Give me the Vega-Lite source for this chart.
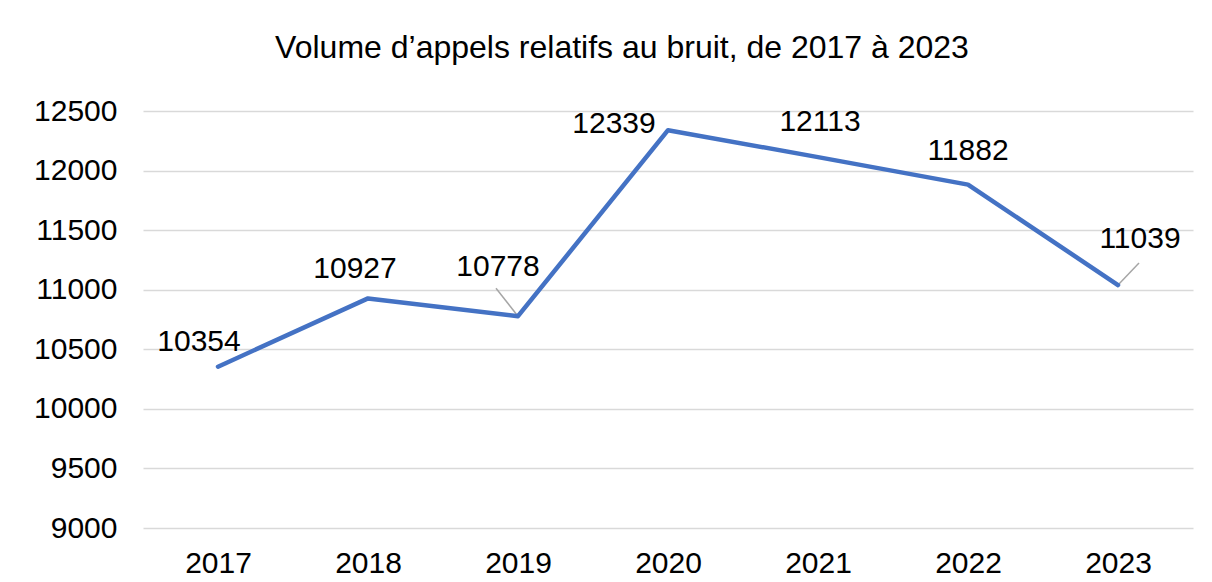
{
  "$schema": "https://vega.github.io/schema/vega-lite/v6.json",
  "autosize": {"type": "none"},
  "width": 1050,
  "height": 417,
  "padding": {"left": 143, "top": 111, "right": 19, "bottom": 54},
  "background": "white",
  "config": {
    "view": {"stroke": null},
    "font": "Liberation Sans",
    "text": {"font": "Liberation Sans"}
  },
  "title": {
    "text": "Volume d’appels relatifs au bruit, de 2017 à 2023",
    "anchor": "middle",
    "dx": -46,
    "offset": 6,
    "baseline": "alphabetic",
    "fontSize": 32,
    "fontWeight": "normal",
    "color": "#000000",
    "font": "Liberation Sans"
  },
  "data": {
    "values": [
      {"year": "2017", "calls": 10354},
      {"year": "2018", "calls": 10927},
      {"year": "2019", "calls": 10778},
      {"year": "2020", "calls": 12339},
      {"year": "2021", "calls": 12113},
      {"year": "2022", "calls": 11882},
      {"year": "2023", "calls": 11039}
    ]
  },
  "encoding": {
    "x": {
      "field": "year",
      "type": "ordinal",
      "scale": {"type": "point", "padding": 0.5},
      "axis": {
        "title": null,
        "labelAngle": 0,
        "labelFontSize": 30,
        "labelColor": "#000000",
        "labelFont": "Liberation Sans",
        "ticks": false,
        "domain": false,
        "labelPadding": 20,
        "grid": false
      }
    },
    "y": {
      "field": "calls",
      "type": "quantitative",
      "scale": {"domain": [9000, 12500], "nice": false, "zero": false},
      "axis": {
        "title": null,
        "values": [9000, 9500, 10000, 10500, 11000, 11500, 12000, 12500],
        "format": "d",
        "labelFontSize": 30,
        "labelColor": "#000000",
        "labelFont": "Liberation Sans",
        "ticks": false,
        "domain": false,
        "labelPadding": 26,
        "gridColor": "#d9d9d9",
        "gridWidth": 1.5
      }
    }
  },
  "layer": [
    {
      "transform": [{"filter": "datum.year == '2019'"}],
      "mark": {"type": "rule", "color": "#a6a6a6", "strokeWidth": 1.5, "x2Offset": -22, "y2Offset": -28},
      "encoding": {
        "x2": {"field": "year"},
        "y2": {"field": "calls"}
      }
    },
    {
      "transform": [{"filter": "datum.year == '2023'"}],
      "mark": {"type": "rule", "color": "#a6a6a6", "strokeWidth": 1.5, "x2Offset": 21, "y2Offset": -22},
      "encoding": {
        "x2": {"field": "year"},
        "y2": {"field": "calls"}
      }
    },
    {
      "mark": {"type": "line", "color": "#4472C4", "strokeWidth": 4.5, "strokeCap": "round", "strokeJoin": "round"}
    },
    {
      "transform": [{"filter": "datum.year == '2017'"}],
      "mark": {"type": "text", "fontSize": 30, "color": "#000000", "baseline": "middle", "dx": -19, "dy": -25},
      "encoding": {"text": {"field": "calls", "type": "quantitative", "format": "d"}}
    },
    {
      "transform": [{"filter": "datum.year == '2018'"}],
      "mark": {"type": "text", "fontSize": 30, "color": "#000000", "baseline": "middle", "dx": -13, "dy": -29},
      "encoding": {"text": {"field": "calls", "type": "quantitative", "format": "d"}}
    },
    {
      "transform": [{"filter": "datum.year == '2019'"}],
      "mark": {"type": "text", "fontSize": 30, "color": "#000000", "baseline": "middle", "dx": -20, "dy": -49},
      "encoding": {"text": {"field": "calls", "type": "quantitative", "format": "d"}}
    },
    {
      "transform": [{"filter": "datum.year == '2020'"}],
      "mark": {"type": "text", "fontSize": 30, "color": "#000000", "baseline": "middle", "dx": -54, "dy": -6},
      "encoding": {"text": {"field": "calls", "type": "quantitative", "format": "d"}}
    },
    {
      "transform": [{"filter": "datum.year == '2021'"}],
      "mark": {"type": "text", "fontSize": 30, "color": "#000000", "baseline": "middle", "dx": 2, "dy": -35},
      "encoding": {"text": {"field": "calls", "type": "quantitative", "format": "d"}}
    },
    {
      "transform": [{"filter": "datum.year == '2022'"}],
      "mark": {"type": "text", "fontSize": 30, "color": "#000000", "baseline": "middle", "dx": 0, "dy": -34},
      "encoding": {"text": {"field": "calls", "type": "quantitative", "format": "d"}}
    },
    {
      "transform": [{"filter": "datum.year == '2023'"}],
      "mark": {"type": "text", "fontSize": 30, "color": "#000000", "baseline": "middle", "dx": 22, "dy": -46},
      "encoding": {"text": {"field": "calls", "type": "quantitative", "format": "d"}}
    }
  ]
}
